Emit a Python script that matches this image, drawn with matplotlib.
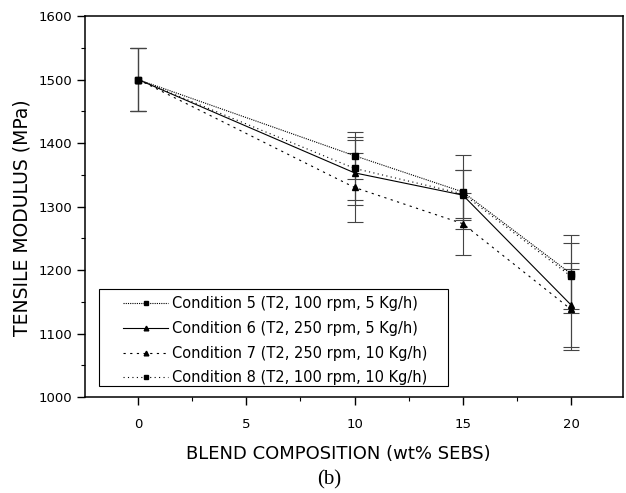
import numpy as np
import matplotlib.pyplot as plt
from matplotlib.patches import Rectangle
from matplotlib.ticker import MultipleLocator

# data
sebs = [0, 10, 15, 20]
labels = ['Condition 5 (T2, 100 rpm, 5 Kg/h)',
          'Condition 6 (T2, 250 rpm, 5 Kg/h)',
          'Condition 7 (T2, 250 rpm, 10 Kg/h)',
          'Condition 8 (T2, 100 rpm, 10 Kg/h)']
cond5 = [1500, 1380, 1323, 1194]
cond6 = [1500, 1353, 1318, 1145]
cond7 = [1500, 1330, 1273, 1138]
cond8 = [1500, 1360, 1320, 1190]
err5 = [50, 37, 58, 61]
err6 = [50, 51, 39, 66]
err7 = [50, 54, 49, 64]
err8 = [50, 49, 38, 52]

plt.rcParams['font.family'] = ['DejaVu Sans']

fig = plt.figure(figsize=(6.26, 4.93), dpi=100)
ax = fig.add_axes([0.1358, 0.1947, 0.8594, 0.7728])

styles = [(cond5, err5, 's', 3.8, (0, (1, 1)), 3),
          (cond6, err6, '^', 4.8, '-', 4),
          (cond7, err7, '^', 4.8, (0, (2, 4)), 5),
          (cond8, err8, 's', 3.8, (0, (1, 3)), 2)]
for (vals, errs, mk, ms, ls, z), lab in zip(styles, labels):
    ax.errorbar(sebs, vals, yerr=errs, fmt='none', ecolor='#444444', elinewidth=0.8,
                capsize=5.5, capthick=0.8, zorder=1)
    ax.plot(sebs, vals, color='k', linestyle=ls, linewidth=0.8,
            marker=mk, markersize=ms, label=lab, zorder=z)

ax.set_xlim(-2.45, 22.4)
ax.set_ylim(1000, 1600)
ax.xaxis.set_major_locator(MultipleLocator(5))
ax.xaxis.set_minor_locator(MultipleLocator(2.5))
ax.yaxis.set_major_locator(MultipleLocator(100))
ax.yaxis.set_minor_locator(MultipleLocator(50))
ax.tick_params(which='major', direction='out', length=6, width=1, labelsize=9.5)
ax.tick_params(which='minor', direction='out', length=3, width=0.8)
ax.tick_params(axis='x', which='major', pad=9)
ax.tick_params(axis='y', which='major', pad=3)
for s in ax.spines.values():
    s.set_linewidth(1.1)

ax.set_xlabel('BLEND COMPOSITION (wt% SEBS)', fontsize=13)
ax.set_ylabel('TENSILE MODULUS (MPa)', fontsize=13.5)
ax.xaxis.set_label_coords(0.47, -0.127)
ax.yaxis.set_label_coords(-0.100, 0.47)

# legend frame drawn separately (wider than the text, as in the original)
ax.add_patch(Rectangle((0.026, 0.029), 0.649, 0.254, transform=ax.transAxes,
                       facecolor='white', edgecolor='k', linewidth=0.8, zorder=6))
leg = ax.legend(loc='upper left', bbox_to_anchor=(0.0706, 0.264), fontsize=10.5,
                frameon=False, handlelength=3.1, handletextpad=0.27,
                labelspacing=0.66, borderpad=0, borderaxespad=0, markerscale=0.7)
leg.set_zorder(7)

fig.text(0.526, 0.026, '(b)', ha='center', va='center', fontsize=15,
         family='Liberation Serif')

fig.savefig('out.png', dpi=100)
